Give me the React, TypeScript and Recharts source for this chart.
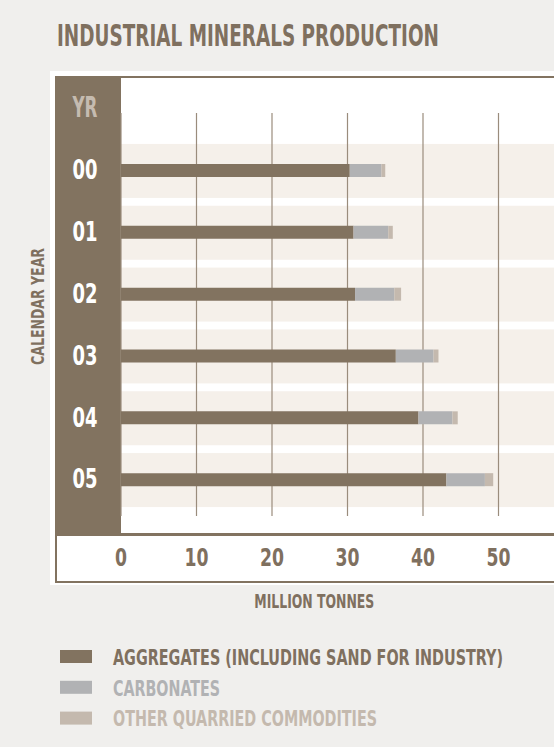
import React from 'react';
import { BarChart, Bar, XAxis, YAxis, CartesianGrid, ReferenceArea, Legend } from 'recharts';

// calendar years (20xx) and production in million tonnes
const years = ['00', '01', '02', '03', '04', '05'];
const aggregates = [30.3, 30.8, 31.0, 36.4, 39.4, 43.1];
const carbonates = [4.2, 4.6, 5.2, 5.0, 4.5, 5.1];
const otherQuarried = [0.5, 0.6, 0.9, 0.65, 0.7, 1.1];
const xTicks = [0, 10, 20, 30, 40, 50];

const seriesNames = [
  'AGGREGATES (INCLUDING SAND FOR INDUSTRY)',
  'CARBONATES',
  'OTHER QUARRIED COMMODITIES',
];

const data = years.map((yr, i) => ({
  yr,
  aggregates: aggregates[i],
  carbonates: carbonates[i],
  other: otherQuarried[i],
}));

const FONT = "'Liberation Sans Narrow', 'DejaVu Sans Condensed', 'Roboto Condensed', 'Liberation Sans', Arial, sans-serif";
const BROWN = '#827360';
const TEXT_BROWN = '#7f705f';
const GREY = '#b1b2b4';
const LIGHT = '#c4b9ae';
const BAND = '#f5f0ea';

const legendWidths = [390, 107, 264];

// condensed look: small font stretched vertically, squeezed to the measured width
const TallText = ({ x, y, fs, sy, width, anchor = 'start', fill, rotate = 0, children }: any) => (
  <text
    transform={`translate(${x}, ${y}) rotate(${rotate}) scale(1, ${sy})`}
    textAnchor={anchor}
    fill={fill}
    fontFamily={FONT}
    fontWeight="bold"
    fontSize={fs}
    textLength={width}
    lengthAdjust="spacingAndGlyphs"
  >
    {children}
  </text>
);

const XTick = (props: any) => {
  const { x, y, payload } = props;
  const label = String(payload.value);
  return (
    <TallText x={x} y={y + 50} fs={19} sy={1.35} width={label.length * 12} anchor="middle" fill={TEXT_BROWN}>
      {label}
    </TallText>
  );
};

const YTick = (props: any) => {
  const { x, y, payload } = props;
  return (
    <TallText x={x - 36} y={y + 8.3} fs={20} sy={1.37} width={25} anchor="middle" fill="#ffffff">
      {payload.value}
    </TallText>
  );
};

const BandShape = (props: any) => {
  const { x, y, width, height } = props;
  const h = 54;
  return <rect x={x} y={y + (height - h) / 2} width={width} height={h} fill={BAND} />;
};

const LegendContent = (props: any) => {
  const { payload } = props;
  return (
    <svg width={554} height={100} style={{ display: 'block' }}>
      {(payload || []).map((entry: any, i: number) => (
        <g key={entry.value}>
          <rect x={60} y={10 + i * 30.8} width={32} height={13} fill={entry.color} />
          <TallText x={113} y={24.7 + i * 30.8} fs={16} sy={1.34} width={legendWidths[i]}
            fill={i === 0 ? TEXT_BROWN : entry.color}>
            {entry.value}
          </TallText>
        </g>
      ))}
    </svg>
  );
};

export default function App() {
  return (
    <div style={{ position: 'absolute', left: 0, top: 0, width: 554, height: 747, overflow: 'hidden', background: '#f0efed' }}>
      {/* panel + frame */}
      <div style={{ position: 'absolute', left: 50, top: 71, width: 560, height: 514, background: '#ffffff' }} />
      <div style={{ position: 'absolute', left: 55, top: 76, width: 560, height: 507, border: `2px solid ${BROWN}`, boxSizing: 'border-box' }} />
      <div style={{ position: 'absolute', left: 55, top: 76, width: 66, height: 460, background: BROWN }} />
      <div style={{ position: 'absolute', left: 121, top: 533, width: 500, height: 2.5, background: BROWN }} />

      <div style={{ position: 'absolute', left: 0, top: 0 }}>
        <BarChart width={580} height={747} data={data} layout="vertical"
          margin={{ top: 113, right: 6, bottom: 171, left: 55 }}>
          {years.map((yr) => (
            <ReferenceArea key={yr} y1={yr} y2={yr} shape={BandShape} zIndex={-200} />
          ))}
          <CartesianGrid horizontal={false} stroke="#9a8c7c" strokeWidth={1.2} />
          <XAxis type="number" domain={[0, 60]} ticks={xTicks} axisLine={false} tickLine={false}
            tickSize={0} tickMargin={0} height={60} tick={<XTick />} interval={0} />
          <YAxis type="category" dataKey="yr" width={66} axisLine={false} tickLine={false}
            tickSize={0} tickMargin={0} padding={{ top: 27, bottom: 5 }} tick={<YTick />} interval={0} />
          <Bar dataKey="aggregates" name={seriesNames[0]} stackId="a" fill={BROWN} barSize={13} isAnimationActive={false} />
          <Bar dataKey="carbonates" name={seriesNames[1]} stackId="a" fill={GREY} barSize={13} isAnimationActive={false} />
          <Bar dataKey="other" name={seriesNames[2]} stackId="a" fill={LIGHT} barSize={13} isAnimationActive={false} />
          <Legend layout="vertical" align="center" verticalAlign="middle"
            wrapperStyle={{ position: 'absolute', left: 0, top: 640, width: 554, height: 100 }}
            content={<LegendContent />} />
        </BarChart>
      </div>

      <svg width={554} height={747} style={{ position: 'absolute', left: 0, top: 0, pointerEvents: 'none' }}>
        <TallText x={57} y={46} fs={21} sy={1.43} width={382} fill={TEXT_BROWN}>INDUSTRIAL MINERALS PRODUCTION</TallText>
        <TallText x={85} y={116.7} fs={20} sy={1.4} width={25} anchor="middle" fill="#c5bbb0">YR</TallText>
        <TallText x={44} y={306.5} rotate={-90} fs={15} sy={1.2} width={117} anchor="middle" fill={TEXT_BROWN}>CALENDAR YEAR</TallText>
        <TallText x={314.3} y={608.3} fs={14.5} sy={1.37} width={120} anchor="middle" fill={TEXT_BROWN}>MILLION TONNES</TallText>
      </svg>
    </div>
  );
}
